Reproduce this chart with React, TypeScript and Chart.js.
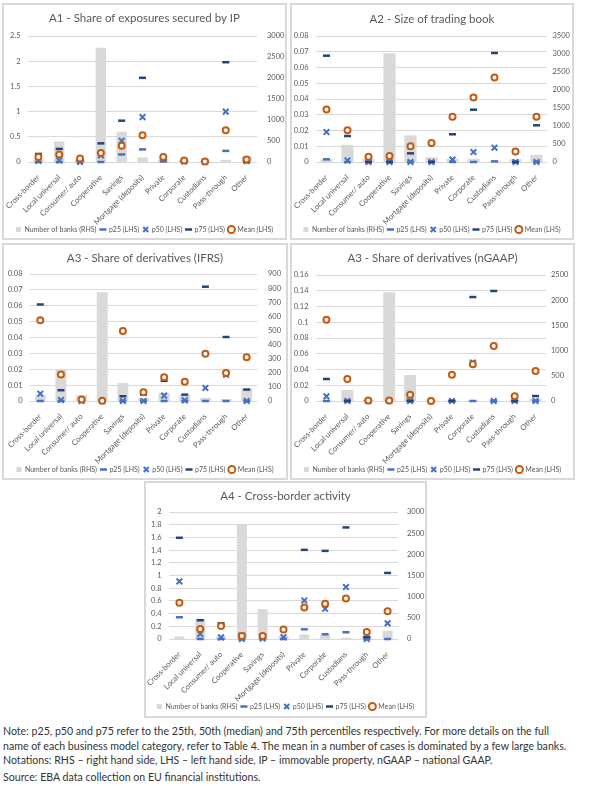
import React, { useEffect, useRef } from 'react';
import { Chart, registerables } from 'chart.js';

Chart.register(...registerables);

const categories = ['Cross-border', 'Local universal', 'Consumer/ auto', 'Cooperative', 'Savings', 'Mortgage (deposits)', 'Private', 'Corporate', 'Custodians', 'Pass-through', 'Other'];

// A1 - Share of exposures secured by IP
const a1Banks = [60, 490, 50, 2720, 720, 110, 70, 50, 20, 50, 140];
const a1P25 = [0, 0, 0, 0, 0.15, 0.25, 0.01, 0, 0, 0.22, 0];
const a1P50 = [0.02, 0.03, 0, 0.13, 0.42, 0.89, 0.06, 0.01, 0, 1.0, 0.02];
const a1P75 = [0.16, 0.26, 0.03, 0.37, 0.82, 1.67, 0.08, 0.02, 0.01, 1.98, 0];
const a1Mean = [0.1, 0.15, 0.07, 0.18, 0.32, 0.53, 0.1, 0.03, 0.01, 0.63, 0.05];

// A2 - Size of trading book
const a2Banks = [80, 480, 80, 3020, 740, 130, 90, 90, 20, 80, 200];
const a2P25 = [0.0017, 0, 0, 0, 0, 0, 0, 0, 0.0004, 0, 0];
const a2P50 = [0.019, 0.001, 0, 0, 0, 0, 0.0015, 0.0063, 0.0091, 0, 0];
const a2P75 = [0.0675, 0.0165, 0, 0, 0.0055, 0, 0.0176, 0.0332, 0.0692, 0, 0.0233];
const a2Mean = [0.0334, 0.0201, 0.0034, 0.0038, 0.01, 0.012, 0.0288, 0.041, 0.0537, 0.0066, 0.0288];

// A3 - Share of derivatives (IFRS)
const a3iBanks = [40, 220, 43, 770, 127, 20, 58, 42, 22, 13, 90];
const a3iP25 = [0, 0, 0, 0, 0, 0, 0, 0, 0, 0, 0];
const a3iP50 = [0.0046, 0.0006, 0, 0, 0, 0, 0.0034, 0.0004, 0.0082, 0.0165, 0];
const a3iP75 = [0.0608, 0.0068, 0, 0, 0.003, 0.004, 0.0127, 0.004, 0.072, 0.0403, 0.0072];
const a3iMean = [0.0508, 0.0167, 0.001, 0.0002, 0.0441, 0.0055, 0.015, 0.0122, 0.0297, 0.0177, 0.0276];

// A3 - Share of derivatives (nGAAP)
const a3nBanks = [15, 220, 25, 2160, 515, 15, 10, 10, 10, 15, 45];
const a3nP25 = [0, 0, 0, 0, 0, 0, 0, 0, 0, 0, 0];
const a3nP50 = [0.0059, 0, 0, 0, 0, 0, 0, 0.0487, 0, 0, 0];
const a3nP75 = [0.0279, 0, 0, 0, 0, 0, 0, 0.132, 0.1397, 0, 0.0063];
const a3nMean = [0.1033, 0.0279, 0.0005, 0.0005, 0.008, 0, 0.0334, 0.0466, 0.0698, 0.0059, 0.0381];

// A4 - Cross-border activity
const a4Banks = [60, 480, 60, 2700, 705, 75, 105, 90, 30, 60, 195];
const a4P25 = [0.343, 0, 0, 0, 0, 0, 0.153, 0.074, 0.106, 0, 0];
const a4P50 = [0.908, 0.079, 0.026, 0, 0.01, 0.03, 0.607, 0.475, 0.818, 0, 0.248];
const a4P75 = [1.594, 0.295, 0.248, 0.08, 0.07, 0.164, 1.404, 1.388, 1.757, 0.032, 1.04];
const a4Mean = [0.57, 0.158, 0.206, 0.048, 0.048, 0.148, 0.496, 0.554, 0.639, 0.111, 0.438];

const seriesLabels = ['Number of banks (RHS)', 'p25 (LHS)', 'p50 (LHS)', 'p75 (LHS)', 'Mean (LHS)'];

const FONT = 'Lato';
const TEXT = '#595959';
const GRID = '#d9d9d9';
const BAR = '#d9d9d9';
const C25 = '#4472c4';
const C50 = '#4472c4';
const C75 = '#264478';
const CMEAN = '#c55a11';
const TITLE_SIZE = 11.5;
const TICK_SIZE = 7.5;
const XTICK_SIZE = 7.7;
const LEG_SIZE = 7;
const LEG_PAD = 4;

type Spec = {
  title: string;
  banks: number[]; p25: number[]; p50: number[]; p75: number[]; mean: number[];
  yMax: number; yStep: number; y2Max: number; y2Step: number;
  panel: { left: number; top: number; w: number; h: number };
  L: number; R: number; T: number; B: number; tc: number; lc: number; rPad: number; barPct: number;
};

const fmt = (v: any) => String(Math.round(Number(v) * 100000) / 100000);

function ChartPanel({ spec }: { spec: Spec }) {
  const ref = useRef<HTMLCanvasElement>(null);
  const cw = spec.panel.w - 4;
  const ch = Math.round(spec.lc + 10 + LEG_SIZE / 2);
  useEffect(() => {
    const legendH = LEG_SIZE + LEG_PAD + 10;
    const xH = ch - legendH - spec.B;
    const tickFont = { family: FONT, size: TICK_SIZE };
    const chart = new Chart(ref.current as HTMLCanvasElement, {
      type: 'bar',
      data: {
        labels: categories,
        datasets: [
          { type: 'bar', label: seriesLabels[0], data: spec.banks, yAxisID: 'y2', backgroundColor: BAR, borderWidth: 0, barPercentage: spec.barPct, categoryPercentage: 1, pointStyle: 'rect', order: 10 } as any,
          { type: 'line', label: seriesLabels[1], data: spec.p25, yAxisID: 'y', showLine: false, pointStyle: 'line', pointRadius: 3.5, pointBorderWidth: 2.5, borderColor: C25, backgroundColor: C25, order: 4, clip: false } as any,
          { type: 'line', label: seriesLabels[2], data: spec.p50, yAxisID: 'y', showLine: false, pointStyle: 'crossRot', pointRadius: 4, pointBorderWidth: 2, borderColor: C50, backgroundColor: C50, order: 3, clip: false } as any,
          { type: 'line', label: seriesLabels[3], data: spec.p75, yAxisID: 'y', showLine: false, pointStyle: 'line', pointRadius: 3.5, pointBorderWidth: 2.5, borderColor: C75, backgroundColor: C75, order: 2, clip: false } as any,
          { type: 'line', label: seriesLabels[4], data: spec.mean, yAxisID: 'y', showLine: false, pointStyle: 'circle', pointRadius: 3, pointBorderWidth: 2, borderColor: CMEAN, backgroundColor: '#ffffff', order: 1, clip: false } as any,
        ],
      },
      options: {
        responsive: false,
        maintainAspectRatio: false,
        animation: false,
        layout: { padding: 0 },
        plugins: {
          title: {
            display: true,
            text: spec.title,
            color: TEXT,
            font: { family: FONT, size: TITLE_SIZE, weight: 'normal', lineHeight: 1.2 },
            padding: { top: spec.tc - TITLE_SIZE * 0.6, bottom: spec.T - spec.tc - TITLE_SIZE * 0.6 },
          },
          legend: {
            position: 'bottom',
            labels: {
              usePointStyle: true,
              boxHeight: 5,
              boxWidth: 5,
              padding: LEG_PAD,
              color: TEXT,
              font: { family: FONT, size: LEG_SIZE },
              sort: (a: any, b: any) => a.datasetIndex - b.datasetIndex,
            },
          },
          tooltip: { enabled: false },
        },
        scales: {
          x: {
            grid: { display: false },
            border: { display: false },
            ticks: { autoSkip: false, minRotation: 45, maxRotation: 45, padding: 3, color: TEXT, font: { family: FONT, size: XTICK_SIZE } },
            afterFit: (s: any) => {
              s.height = xH;
              s.paddingLeft = 0;
              s.paddingRight = 0;
              s._computeLabelArea = () => undefined;
            },
          },
          y: {
            position: 'left',
            min: 0,
            max: spec.yMax,
            ticks: { stepSize: spec.yStep, padding: 7.5, color: TEXT, font: tickFont, callback: (v: any) => fmt(v) },
            grid: { color: GRID, lineWidth: 1, drawTicks: false },
            border: { display: false },
            afterFit: (s: any) => { s.width = spec.L; },
          },
          y2: {
            position: 'right',
            min: 0,
            max: spec.y2Max,
            ticks: { stepSize: spec.y2Step, padding: spec.rPad, color: TEXT, font: tickFont, callback: (v: any) => fmt(v) },
            grid: { display: false, drawTicks: false },
            border: { display: false },
            afterFit: (s: any) => { s.width = cw - spec.R; },
          },
        },
      } as any,
    });
    return () => chart.destroy();
  }, []);
  return (
    <div style={{ position: 'absolute', left: spec.panel.left, top: spec.panel.top, width: spec.panel.w, height: spec.panel.h, boxSizing: 'border-box', border: '2px solid #d9d9d9', overflow: 'hidden', background: '#fff' }}>
      <canvas ref={ref} width={cw} height={ch} style={{ display: 'block', width: cw, height: ch }} />
    </div>
  );
}

const specs: Spec[] = [
  { title: 'A1 - Share of exposures secured by IP', banks: a1Banks, p25: a1P25, p50: a1P50, p75: a1P75, mean: a1Mean, yMax: 2.5, yStep: 0.5, y2Max: 3000, y2Step: 500,
    panel: { left: 2, top: 3, w: 285, h: 237 }, L: 24, R: 253, T: 31, B: 157, tc: 13, lc: 224, rPad: 10, barPct: 0.5 },
  { title: 'A2 - Size of trading book', banks: a2Banks, p25: a2P25, p50: a2P50, p75: a2P75, mean: a2Mean, yMax: 0.08, yStep: 0.01, y2Max: 3500, y2Step: 500,
    panel: { left: 290, top: 3, w: 284, h: 237 }, L: 24, R: 255, T: 31, B: 157, tc: 14, lc: 224, rPad: 5.5, barPct: 0.58 },
  { title: 'A3 - Share of derivatives (IFRS)', banks: a3iBanks, p25: a3iP25, p50: a3iP50, p75: a3iP75, mean: a3iMean, yMax: 0.08, yStep: 0.01, y2Max: 900, y2Step: 100,
    panel: { left: 2, top: 243, w: 286, h: 237 }, L: 26, R: 253, T: 29, B: 156, tc: 13, lc: 224, rPad: 11, barPct: 0.53 },
  { title: 'A3 - Share of derivatives (nGAAP)', banks: a3nBanks, p25: a3nP25, p50: a3nP50, p75: a3nP75, mean: a3nMean, yMax: 0.16, yStep: 0.02, y2Max: 2500, y2Step: 500,
    panel: { left: 290, top: 243, w: 285, h: 237 }, L: 24, R: 254, T: 30, B: 156, tc: 13, lc: 224, rPad: 5, barPct: 0.57 },
  { title: 'A4 - Cross-border activity', banks: a4Banks, p25: a4P25, p50: a4P50, p75: a4P75, mean: a4Mean, yMax: 2, yStep: 0.2, y2Max: 3000, y2Step: 500,
    panel: { left: 144, top: 481, w: 283, h: 237 }, L: 23, R: 252, T: 29, B: 156, tc: 13, lc: 223, rPad: 9, barPct: 0.48 },
];

export default function App() {
  return (
    <div style={{ position: 'absolute', left: 0, top: 0, width: 604, height: 786, background: '#fff', overflow: 'hidden' }}>
      {specs.map((s, i) => <ChartPanel key={i} spec={s} />)}
      <div style={{ position: 'absolute', left: 3, top: 724, fontFamily: FONT, fontSize: 10.6, lineHeight: '14.5px', color: '#333', whiteSpace: 'nowrap' }}>
        Note: p25, p50 and p75 refer to the 25th, 50th (median) and 75th percentiles respectively. For more details on the full<br />
        name of each business model category, refer to Table 4. The mean in a number of cases is dominated by a few large banks.<br />
        Notations: RHS – right hand side, LHS – left hand side, IP – immovable property, nGAAP – national GAAP.
      </div>
      <div style={{ position: 'absolute', left: 3, top: 770, fontFamily: FONT, fontSize: 10.6, lineHeight: '14.5px', color: '#333', whiteSpace: 'nowrap' }}>
        Source: EBA data collection on EU financial institutions.
      </div>
    </div>
  );
}
